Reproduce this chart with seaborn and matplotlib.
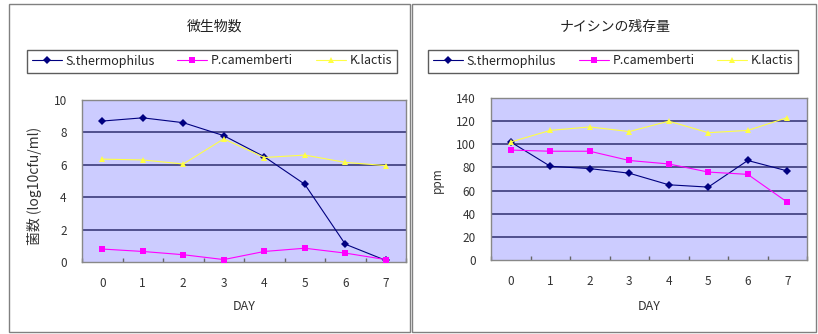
import matplotlib
matplotlib.use("Agg")
import matplotlib.pyplot as plt
from matplotlib.patches import Rectangle
import seaborn as sns
import pandas as pd

days = [0, 1, 2, 3, 4, 5, 6, 7]
day_labels = ["0", "1", "2", "3", "4", "5", "6", "7"]
series_names = ["S.thermophilus", "P.camemberti", "K.lactis"]

# 微生物数 (log10 cfu/ml)
s_therm_count = [8.7, 8.9, 8.6, 7.8, 6.5, 4.8, 1.1, 0.1]
p_cam_count = [0.8, 0.65, 0.45, 0.15, 0.65, 0.85, 0.55, 0.15]
k_lactis_count = [6.35, 6.3, 6.05, 7.6, 6.45, 6.6, 6.15, 5.95]

# ナイシンの残存量 (ppm)
s_therm_nisin = [102, 81, 79, 75, 65, 63, 86, 77]
p_cam_nisin = [95, 94, 94, 86, 83, 76, 74, 50]
k_lactis_nisin = [102, 112, 115, 111, 120, 110, 112, 123]

titles = ["微生物数", "ナイシンの残存量"]
ylabels = ["菌数 (log10cfu/ml)", "ppm"]
xlabel = "DAY"

colors = {"S.thermophilus": "#000080", "P.camemberti": "#FF00FF", "K.lactis": "#FFFF44"}
markers = {"S.thermophilus": "D", "P.camemberti": "s", "K.lactis": "^"}

sns.set_theme(style="white")
plt.rcParams["font.family"] = ["Noto Sans CJK JP", "DejaVu Sans"]

def long_df(a, b, c):
    rows = []
    for name, vals in zip(series_names, [a, b, c]):
        for d, v in zip(days, vals):
            rows.append({"day": d, "value": v, "series": name})
    return pd.DataFrame(rows)

df_count = long_df(s_therm_count, p_cam_count, k_lactis_count)
df_nisin = long_df(s_therm_nisin, p_cam_nisin, k_lactis_nisin)

fig = plt.figure(figsize=(8.18, 3.34), dpi=100)
fig.patch.set_facecolor("white")

# panel frames
for x0, x1 in [(9, 410), (412, 816)]:
    fig.patches.append(Rectangle((x0 / 818, 2 / 334), (x1 - x0) / 818, 328 / 334,
                                 transform=fig.transFigure, fill=False,
                                 edgecolor="#808080", linewidth=1.0))

ax1 = fig.add_axes([82 / 818, (334 - 262) / 334, 324 / 818, 162 / 334])
ax2 = fig.add_axes([491 / 818, (334 - 260) / 334, 316 / 818, 162 / 334])

configs = [
    (ax1, df_count, (0, 10), [0, 2, 4, 6, 8, 10], 212 / 818, 34 / 818, 215 / 818, 10, 186),
    (ax2, df_nisin, (0, 140), [0, 20, 40, 60, 80, 100, 120, 140], 613 / 818, 437 / 818, 615 / 818, 8.5, 180),
]

for i, (ax, df, ylim, yt, legx, ylx, tx, ylfs, yly) in enumerate(configs):
    ax.set_facecolor("#CCCCFF")
    for y in yt[1:-1]:
        ax.axhline(y, color="#3a3a7a", linewidth=1.2, zorder=1)
    sns.lineplot(data=df, x="day", y="value", hue="series", style="series",
                 palette=colors, markers=markers, dashes=False,
                 markersize=4.5, linewidth=0.8, markeredgewidth=0,
                 ax=ax, zorder=3)
    handles, labels = ax.get_legend_handles_labels()
    ax.get_legend().remove()
    ax.set_xlim(-0.5, 7.5)
    ax.set_ylim(*ylim)
    ax.set_xticks(days)
    ax.set_xticklabels(day_labels)
    ax.set_xticks([d + 0.5 for d in [-1] + days], minor=True)
    ax.set_yticks(yt)
    ax.tick_params(axis="x", which="major", length=0, labelsize=8.5, pad=11, colors="#333333")
    ax.tick_params(axis="x", which="minor", length=3, direction="in", color="#666666", bottom=True)
    ax.tick_params(axis="y", length=0, labelsize=8.5, pad=11, colors="#333333")
    ax.set_xlabel("")
    ax.set_ylabel("")
    for s in ax.spines.values():
        s.set_color("#888888")
        s.set_linewidth(1.0)
    fig.text(tx, (334 - 27) / 334, titles[i], ha="center", va="center",
             fontsize=10, color="#222222")
    pos = ax.get_position()
    fig.text((pos.x0 + pos.x1) / 2, (334 - 307) / 334,
             xlabel, ha="center", va="center", fontsize=9, color="#333333")
    fig.text(ylx, (334 - yly) / 334, ylabels[i],
             rotation=90, ha="center", va="center", fontsize=ylfs, color="#333333")
    leg = fig.legend(handles, labels, loc="center", bbox_to_anchor=(legx, (334 - 61) / 334),
                     ncol=3, fontsize=9, frameon=True, fancybox=False,
                     handlelength=2.4, columnspacing=1.8, handletextpad=0.3,
                     borderpad=0.4)
    leg.get_frame().set_edgecolor("#333333")
    leg.get_frame().set_linewidth(1.0)

fig.savefig("out.png", dpi=100, facecolor="white")
